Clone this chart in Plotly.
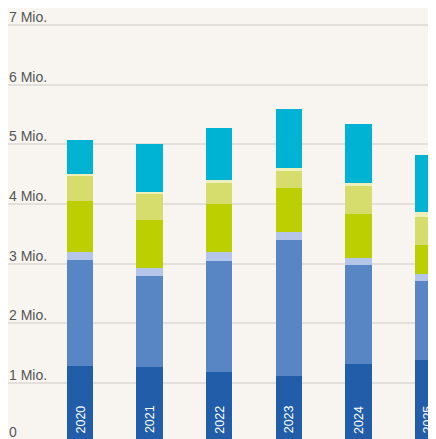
import plotly.graph_objects as go

years = ["2020", "2021", "2022", "2023", "2024", "2025"]
s_dark = [1.29, 1.26, 1.19, 1.12, 1.32, 1.38]
s_mid = [1.78, 1.53, 1.86, 2.27, 1.66, 1.33]
s_lav = [0.13, 0.13, 0.14, 0.14, 0.12, 0.11]
s_yg = [0.86, 0.81, 0.81, 0.74, 0.73, 0.49]
s_lyg = [0.42, 0.44, 0.35, 0.28, 0.47, 0.47]
s_pale = [0.03, 0.04, 0.05, 0.06, 0.05, 0.08]
s_cyan = [0.57, 0.80, 0.88, 0.98, 1.00, 0.97]

tick_vals = [0, 1, 2, 3, 4, 5, 6, 7]
tick_text = ["0", "1 Mio.", "2 Mio.", "3 Mio.", "4 Mio.", "5 Mio.", "6 Mio.", "7 Mio."]

series = [
    (s_dark, "#215da9"),
    (s_mid, "#5886c5"),
    (s_lav, "#b5c5ea"),
    (s_yg, "#bccf00"),
    (s_lyg, "#d7dd6c"),
    (s_pale, "#eef0bc"),
    (s_cyan, "#00b3d3"),
]

x_idx = list(range(len(years)))
fig = go.Figure()
for vals, col in series:
    fig.add_trace(go.Bar(
        x=x_idx, y=vals, marker=dict(color=col, line=dict(width=0)),
        width=0.38, hoverinfo="skip", showlegend=False,
    ))

bg = "#f8f5f1"
fig.update_layout(
    barmode="stack",
    width=436, height=439,
    margin=dict(l=0, r=0, t=0, b=0),
    paper_bgcolor=bg, plot_bgcolor=bg,
    font=dict(family="Liberation Sans, Arial, sans-serif"),
    xaxis=dict(range=[-1.0345, 5.230], showticklabels=False, showgrid=False,
               zeroline=False, showline=False),
    yaxis=dict(range=[-0.0755, 7.290], tickvals=tick_vals, showticklabels=False,
               showgrid=True, gridcolor="#e3dfda", gridwidth=1.5,
               zeroline=False, showline=False),
)

for v, t in zip(tick_vals, tick_text):
    fig.add_annotation(
        x=0, xref="paper", y=v, yref="y", text=t, showarrow=False,
        xanchor="left", yanchor="bottom", yshift=(1 if v == 0 else -2), xshift=-1,
        font=dict(size=14, color="#555555"),
    )

for i, yr in zip(x_idx, years):
    fig.add_annotation(
        x=i, y=0, xref="x", yref="y", text=yr, showarrow=False,
        textangle=-90, xanchor="center", yanchor="bottom", yshift=7,
        font=dict(size=12.5, color="white"),
    )

fig.write_html("out.html")
